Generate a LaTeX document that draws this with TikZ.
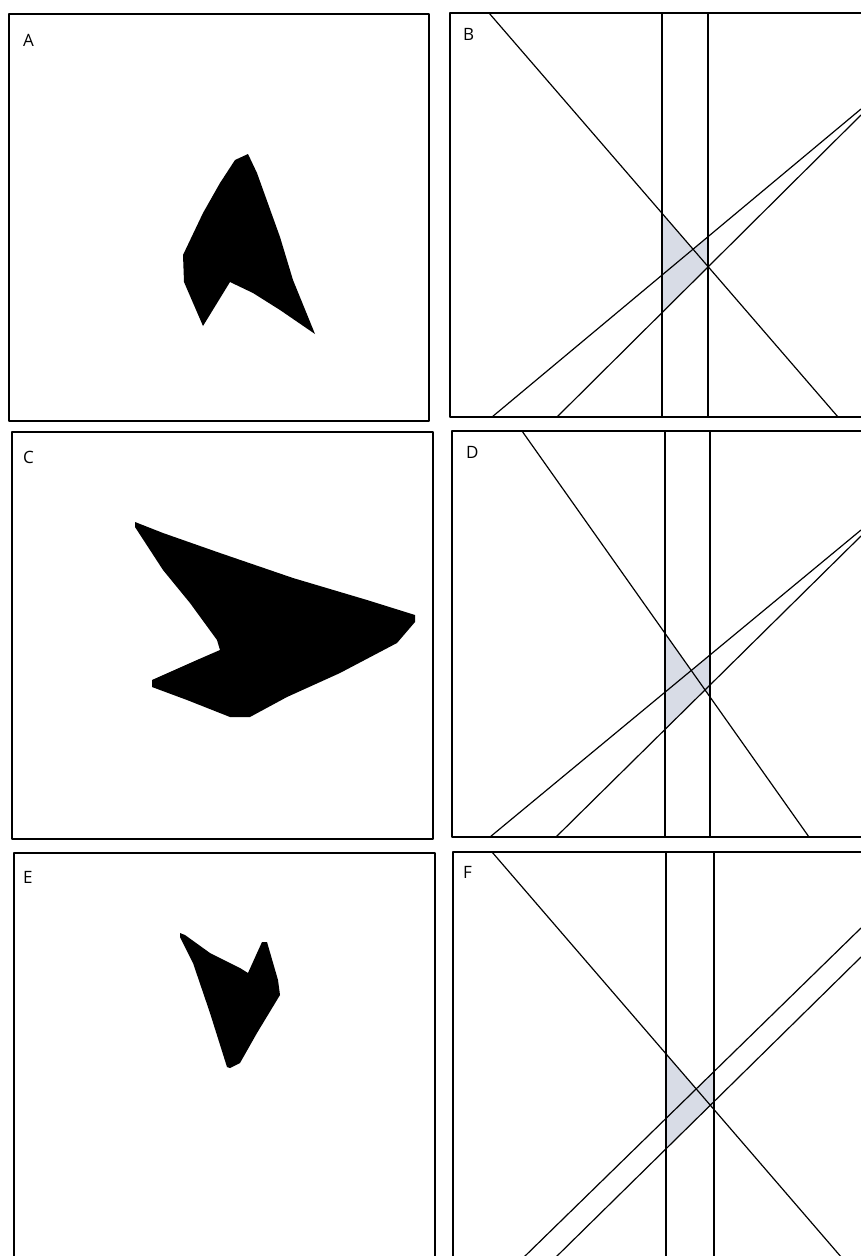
\documentclass[tikz,border=0pt]{standalone}
\usepackage{fontspec}
\setmainfont{Open Sans}
\definecolor{cellgray}{RGB}{216,220,230}
\begin{document}
\begin{tikzpicture}[x=1pt,y=-1pt,line join=round,line cap=round,
	frame/.style={line width=1.9pt},
	bar/.style={line width=1.4pt},
	ray/.style={line width=1.2pt},
	lab/.style={anchor=west,inner sep=0pt,font=\fontsize{17}{20}\selectfont}]
	\useasboundingbox (0,0) rectangle (861,1256);
	\clip (0,0) rectangle (861,1256);
	% left column: the three shapes
	\foreach \n/\fl/\ft/\fr/\fb/\lx/\ly in {A/9/14/429/421/23/40, C/12/432/433/839/23/457, E/14/853/435/1262/23/877}{
		\draw[frame] (\fl,\ft) rectangle (\fr,\fb);
		\node[lab] (lab\n) at (\lx,\ly) {\n};
	}
	\fill (235,160)--(248,154)--(257,173)--(280,237)--(293,280)--(315,334)--(280,310)--(253,293)--(230,282)--(203,326)--(184,282)--(183,255)--(203,213)--(220,183)--cycle;
	\fill (135,522)--(163,533)--(220,553)--(293,578)--(367,600)--(415,615)--(415,622)--(397,643)--(340,673)--(287,697)--(250,717)--(230,717)--(187,700)--(152,687)--(152,680)--(197,660)--(220,650)--(217,640)--(190,603)--(163,570)--(135,527)--cycle;
	\fill (180,933)--(185,935)--(210,953)--(240,968)--(248,973)--(257,953)--(262,942)--(267,942)--(278,980)--(280,995)--(257,1033)--(240,1063)--(230,1068)--(227,1067)--(210,1013)--(193,963)--(180,937)--cycle;
	% right column: strips and lines
	\foreach \n/\fl/\ft/\fb/\va/\vb/\dx/\ex/\ax/\ay/\bx/\by/\lx/\ly in {
		B/450/13/417/662/708/489/838/492/109/557/115/463/34,
		D/452/431/837/665/710/522/809/490/530/556/536/466/452,
		F/453/852/1258/666/714/492/842/523/928/555/957/463/872}{
		\coordinate (V1t) at (\va,\ft); \coordinate (V1b) at (\va,\fb);
		\coordinate (V2t) at (\vb,\ft); \coordinate (V2b) at (\vb,\fb);
		\coordinate (D1) at (\dx,\ft); \coordinate (D2) at (\ex,\fb);
		\coordinate (A1) at (\ax,\fb); \coordinate (A2) at (861,\ay);
		\coordinate (B1) at (\bx,\fb); \coordinate (B2) at (861,\by);
		\begin{scope}
			\clip (\va,\ft) rectangle (\vb,\fb);
			\fill[cellgray] (intersection of D1--D2 and V1t--V1b)
				-- (intersection of D1--D2 and A1--A2)
				-- (intersection of A1--A2 and V2t--V2b)
				-- (intersection of D1--D2 and V2t--V2b)
				-- (intersection of D1--D2 and B1--B2)
				-- (intersection of B1--B2 and V1t--V1b) -- cycle;
		\end{scope}
		\draw[ray] (D1)--(D2) (A1)--(A2) (B1)--(B2);
		\draw[bar] (V1t)--(V1b) (V2t)--(V2b);
		\draw[frame] (\fl,\ft) rectangle (875,\fb);
		\node[lab] (lab\n) at (\lx,\ly) {\n};
	}
\end{tikzpicture}
\end{document}
